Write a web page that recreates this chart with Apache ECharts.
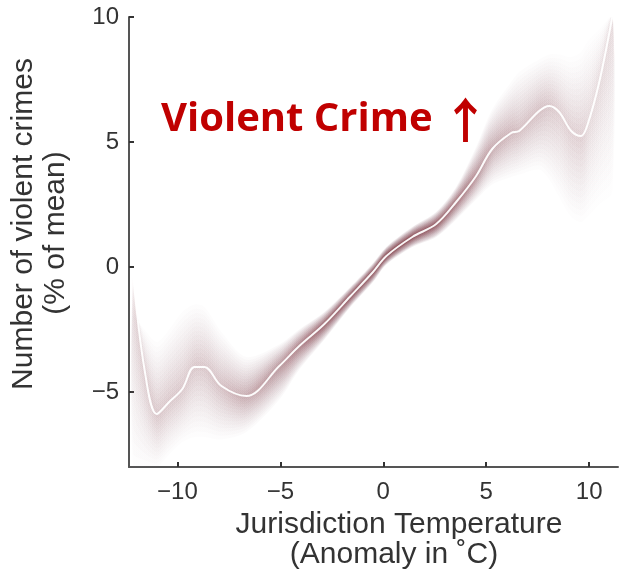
<!DOCTYPE html>
<html>
<head>
<meta charset="utf-8">
<script src="https://cdn.jsdelivr.net/npm/echarts@6/dist/echarts.min.js"></script>
<style>
html,body{margin:0;padding:0;background:#fff;}
#chart{width:619px;height:569px;}
</style>
</head>
<body>
<div id="chart"></div>
<script>
// Temperature anomaly samples (x) and the fitted curve (white line)
const xs = [-12.15, -11.6, -11.0, -10.4, -9.76, -9.17, -8.69, -7.86, -6.65, -5.05, -4.08, -2.86, -1.6, -0.5, 0.15, 1.41, 2.57, 3.54, 4.51, 5.29, 6.21, 6.6, 7.57, 8.06, 8.54, 9.13, 9.61, 9.9, 10.49, 11.12];
const lineY = [-0.3, -4.08, -5.88, -5.4, -4.88, -4.0, -4.0, -4.76, -5.16, -3.96, -3.16, -2.28, -1.17, -0.2, 0.44, 1.2, 1.72, 2.6, 3.64, 4.72, 5.36, 5.44, 6.24, 6.44, 6.2, 5.44, 5.24, 5.64, 7.4, 10.0];
// Outer extent of the shaded uncertainty band
const bandLo = [-8, -8, -8, -7.5, -7.0, -6.8, -6.8, -6.9, -6.6, -5.3, -4.1, -2.9, -1.6, -0.6, 0.1, 0.8, 1.2, 1.9, 2.7, 3.3, 3.6, 3.7, 3.9, 3.5, 2.8, 2.0, 1.8, 2.0, 2.5, 3.0];
const bandHi = [-2, -2.5, -3, -2.5, -1.8, -1.5, -1.6, -2.6, -3.6, -3.1, -2.5, -1.8, -0.8, 0.15, 0.8, 1.6, 2.2, 3.2, 4.8, 6.3, 7.4, 7.8, 8.3, 8.5, 8.5, 8.4, 8.6, 9.0, 9.5, 10.0];
const xTicks = [-10, -5, 0, 5, 10];
const yTicks = [-5, 0, 5, 10];
const titleMain = 'Violent Crime';
const titleArrow = '\u2191';
const xName = ['Jurisdiction Temperature', '(Anomaly in \u02DAC)'];
const yName = ['Number of violent crimes', '(% of mean)'];

const chart = echarts.init(document.getElementById('chart'), null, {renderer: 'canvas'});
const fmt = v => String(v).replace('-', '\u2212');
const outerC = [175, 150, 160], innerC = [105, 12, 22];
const NL = 14;
const layers = [];
for (let k = 0; k < NL; k++) {
  const t = k / (NL - 1);
  layers.push({f: 1 - 0.93 * t, c: outerC.map((o, j) => Math.round(o + (innerC[j] - o) * t))});
}

function renderBand(params, api) {
  if (params.dataIndex !== 0) return null;
  const n = xs.length;
  const children = [];
  const p0 = api.coord([xs[0], 0])[0];
  const pN = api.coord([xs[n - 1], 0])[0];
  layers.forEach(L => {
    const top = [], bot = [], stops = [];
    for (let i = 0; i < n; i++) {
      const hi = lineY[i] + L.f * (bandHi[i] - lineY[i]);
      const lo = lineY[i] + L.f * (bandLo[i] - lineY[i]);
      top.push(api.coord([xs[i], hi]));
      bot.push(api.coord([xs[i], lo]));
      const w = bandHi[i] - bandLo[i];
      const a = Math.min(0.18, 0.12 / w);
      const px = api.coord([xs[i], 0])[0];
      stops.push({offset: (px - p0) / (pN - p0), color: 'rgba(' + L.c.join(',') + ',' + a.toFixed(3) + ')'});
    }
    const pts = top.concat(bot.reverse());
    children.push({
      type: 'polygon',
      shape: {points: pts, smooth: 0.3},
      style: {fill: {type: 'linear', x: 0, y: 0, x2: 1, y2: 0, colorStops: stops}}
    });
  });
  return {type: 'group', children: children};
}

const nameFont = '30px "Liberation Sans", Arial';
const option = {
  animation: false,
  backgroundColor: '#fff',
  title: {
    text: '{t|' + titleMain + '}{s| }{a|' + titleArrow + '}',
    left: 156, top: 91,
    textStyle: {
      rich: {
        t: {color: '#C00000', fontFamily: 'Open Sans', fontWeight: 'bold', fontSize: 40},
        s: {fontSize: 20, width: 9},
        a: {color: '#C00000', fontFamily: 'Noto Sans CJK SC', fontWeight: 'bold', fontSize: 48}
      }
    }
  },
  grid: {left: 129, right: 1, top: 17, bottom: 102, containLabel: false},
  xAxis: {
    type: 'value', min: -12.35, max: 11.4,
    splitLine: {show: false},
    axisLine: {onZero: false, lineStyle: {color: '#555', width: 2}},
    axisTick: {inside: true, length: 5, customValues: xTicks, lineStyle: {color: '#333', width: 2}},
    axisLabel: {customValues: xTicks, formatter: fmt, margin: 13, color: '#333', fontSize: 24, fontFamily: 'Liberation Sans, Arial'}
  },
  yAxis: {
    type: 'value', min: -8, max: 10,
    splitLine: {show: false},
    axisLine: {onZero: false, lineStyle: {color: '#555', width: 2}},
    axisTick: {inside: true, length: 5, customValues: yTicks, lineStyle: {color: '#333', width: 2}},
    axisLabel: {customValues: yTicks, formatter: fmt, margin: 10, color: '#333', fontSize: 24, fontFamily: 'Liberation Sans, Arial'}
  },
  graphic: [
    {type: 'text', x: 399, y: 525, style: {text: xName[0], fill: '#333', font: nameFont, align: 'center', verticalAlign: 'middle'}},
    {type: 'text', x: 394, y: 555, style: {text: xName[1], fill: '#333', font: nameFont, align: 'center', verticalAlign: 'middle'}},
    {type: 'text', x: 24, y: 224, rotation: Math.PI / 2, style: {text: yName[0], fill: '#333', font: nameFont, align: 'center', verticalAlign: 'middle'}},
    {type: 'text', x: 56, y: 233, rotation: Math.PI / 2, style: {text: yName[1], fill: '#333', font: nameFont, align: 'center', verticalAlign: 'middle'}}
  ],
  series: [
    {
      type: 'custom', clip: true, z: 1,
      data: xs.map((x, i) => [x, bandLo[i], bandHi[i], lineY[i]]),
      renderItem: renderBand
    },
    {
      type: 'line', z: 3, smooth: 0.35, symbol: 'none',
      lineStyle: {color: 'rgba(255,255,255,0.95)', width: 2},
      data: xs.map((x, i) => [x, lineY[i]])
    }
  ]
};
chart.setOption(option);
</script>
</body>
</html>
